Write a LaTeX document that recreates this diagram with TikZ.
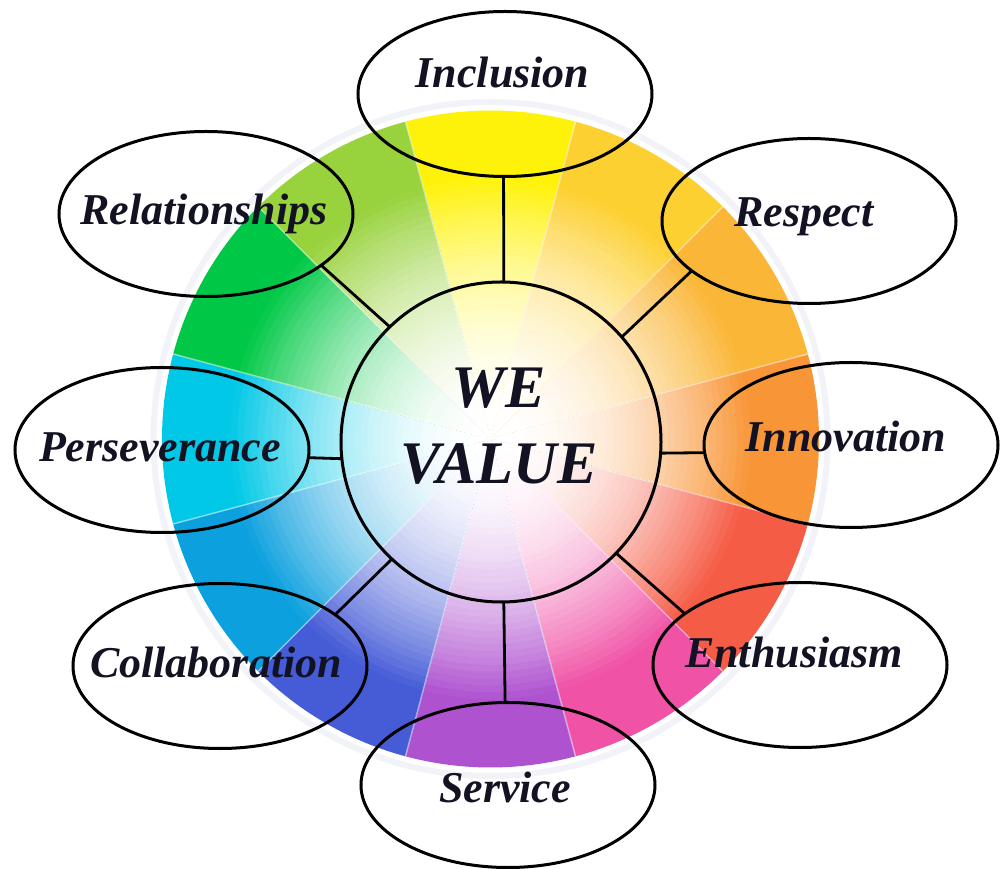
\documentclass[tikz,border=0pt]{standalone}
\usepackage{fontspec}
\setmainfont{Liberation Serif}
\usetikzlibrary{shapes.geometric,calc}
\definecolor{wyel}{RGB}{255,242,10}
\definecolor{wgold}{RGB}{253,208,50}
\definecolor{worgy}{RGB}{250,182,55}
\definecolor{worg}{RGB}{248,150,55}
\definecolor{wred}{RGB}{245,92,70}
\definecolor{wpink}{RGB}{240,82,165}
\definecolor{wpurp}{RGB}{175,82,208}
\definecolor{wblue}{RGB}{70,92,215}
\definecolor{wazure}{RGB}{12,160,222}
\definecolor{wcyan}{RGB}{0,200,230}
\definecolor{wgreen}{RGB}{0,200,70}
\definecolor{wygreen}{RGB}{152,210,60}
\definecolor{halo}{RGB}{225,230,240}
\definecolor{txtc}{RGB}{18,18,35}
\begin{document}
\begin{tikzpicture}[x=0.25mm,y=-0.25mm,
  valell/.style={ellipse, draw=black, line width=0.75mm, minimum width=73.5mm,
    minimum height=41.25mm, inner sep=0pt, outer sep=0pt},
  valtxt/.style={anchor=base, inner sep=0pt, text=txtc,
    font=\fontsize{31.3}{36}\selectfont\bfseries\itshape},
  hubtxt/.style={inner sep=0pt, text=txtc, align=center,
    font=\fontsize{43}{54}\selectfont\bfseries\itshape},
  hub/.style={circle, draw=black, line width=0.75mm, minimum size=80mm,
    inner sep=0pt, outer sep=0pt},
  link/.style={draw=black, line width=0.7mm},
  sep/.style={draw=white, line width=0.35mm, opacity=0.5}]
\useasboundingbox (0,0) rectangle (1000,869);
\fill[white] (0,0) rectangle (1000,869);
\coordinate (W) at (490.5,439);
% halo around the wheel
\draw[halo, line width=1.5mm, opacity=0.45] (W) circle[radius=337];
% colour wheel: each segment fades from full colour at the rim to white at the centre
\foreach \th/\c in {90/wyel, 60/wgold, 30/worgy, 0/worg, -30/wred, -60/wpink,
    -90/wpurp, -120/wblue, -150/wazure, 180/wcyan, 150/wgreen, 120/wygreen} {
  \foreach \k in {48,47,...,1} {
    \pgfmathsetmacro\rr{328.5*\k/48}
    \pgfmathtruncatemacro\pp{min(100,100*(\k/48/0.8)^2)}
    \fill[\c!\pp!white] (W) -- ++({-\th-15}:\rr)
      arc[start angle={-\th-15}, end angle={-\th+15}, radius=\rr] -- cycle;
  }
}
\foreach \a in {15,45,...,345} {
  \path[sep] (W) -- ++(\a:328.5);
}
% hub
\node[hub] (we) at (501,442) {};
\node[hubtxt] (wetxt) at (499,426) {WE\\VALUE};
% value ellipses
\node[valell] (inc) at (505,94) {};
\node[valell] (res) at (809,221) {};
\node[valell] (inn) at (851,445) {};
\node[valell] (ent) at (800,665) {};
\node[valell] (ser) at (508,785) {};
\node[valell] (col) at (220,666) {};
\node[valell] (per) at (162,450) {};
\node[valell] (rel) at (206,214) {};
% connectors
\path[link] (we.89) -- (inc.-91);
\path[link] (we.41) -- (res.203);
\path[link] (we.-4) -- (inn.183);
\path[link] (we.-44) -- (ent.156);
\path[link] (we.-89) -- (ser.92);
\path[link] (we.227) -- (col.24);
\path[link] (we.186) -- (per.-3);
\path[link] (we.134) -- (rel.-24);
% labels
\node[valtxt] (inct) at ($(inc)+(-2.5,-6)$) {Inclusion};
\node[valtxt] (rest) at ($(res)+(-5,6)$) {Respect};
\node[valtxt] (innt) at ($(inn)+(-5,7)$) {Innovation};
\node[valtxt] (entt) at ($(ent)+(-6,3)$) {Enthusiasm};
\node[valtxt] (sert) at ($(ser)+(-3,17)$) {Service};
\node[valtxt] (colt) at ($(col)+(-4,12)$) {Collaboration};
\node[valtxt] (pert) at ($(per)+(-2,12)$) {Perseverance};
\node[valtxt] (relt) at ($(rel)+(-2,11)$) {Relationships};
\end{tikzpicture}
\end{document}
